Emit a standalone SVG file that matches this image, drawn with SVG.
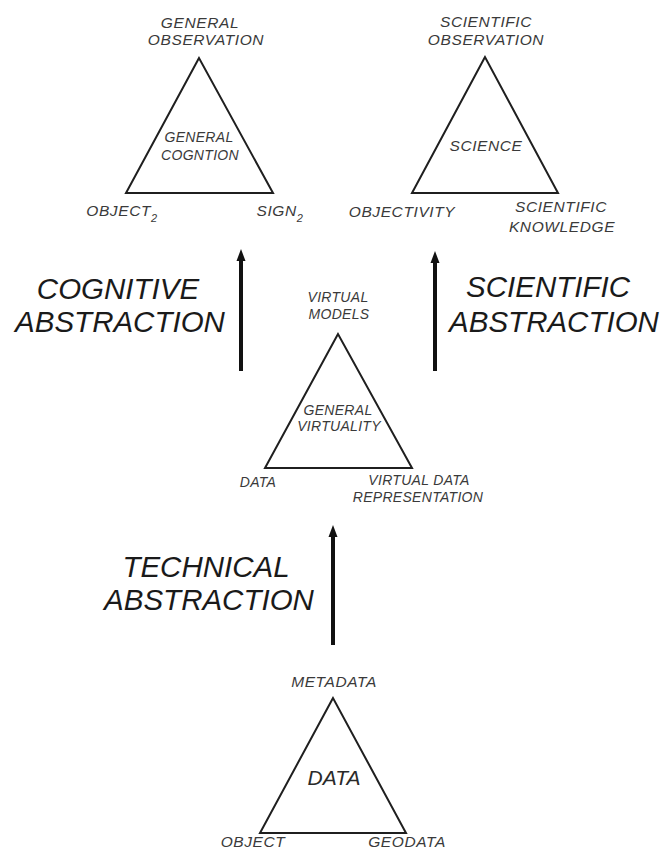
<svg xmlns="http://www.w3.org/2000/svg" width="662" height="856" viewBox="0 0 662 856">
<defs>
<marker id="ah" markerUnits="userSpaceOnUse" markerWidth="12" markerHeight="10" refX="0" refY="5" orient="auto" viewBox="0 0 12 10">
<polygon points="0,0.5 12,5 0,9.5" fill="#111"/>
</marker>
<style>
text{font-family:"Liberation Sans",Arial,sans-serif;font-style:italic;text-anchor:middle;}
.lab{font-size:15.5px;letter-spacing:0.6px;fill:#3a3a3a;}
.mid{font-size:14px;letter-spacing:0.3px;fill:#3a3a3a;}
.big{font-size:29.5px;fill:#1a1a1a;}
.sub{font-size:11px;}
.tri{fill:none;stroke:#1f1f1f;stroke-width:2;stroke-linejoin:miter;}
.arr{stroke:#111;stroke-width:4;fill:none;}
</style>
</defs>
<rect width="662" height="856" fill="#fff"/>

<g id="general-cognition">
<polygon class="tri" points="199,58 126,193 273,193"/>
<text class="lab" x="200" y="28">GENERAL</text>
<text class="lab" x="206" y="45">OBSERVATION</text>
<text class="mid" x="199" y="142">GENERAL</text>
<text class="mid" x="200" y="160">COGNTION</text>
<text class="lab" x="122" y="216">OBJECT<tspan class="sub" dy="6">2</tspan></text>
<text class="lab" x="280" y="216">SIGN<tspan class="sub" dy="6">2</tspan></text>
</g>

<g id="science">
<polygon class="tri" points="485,57 412,193 558,193"/>
<text class="lab" x="486" y="27">SCIENTIFIC</text>
<text class="lab" x="486" y="45">OBSERVATION</text>
<text class="lab" x="486" y="151">SCIENCE</text>
<text class="lab" x="402" y="217">OBJECTIVITY</text>
<text class="lab" x="561" y="212">SCIENTIFIC</text>
<text class="lab" x="562" y="232">KNOWLEDGE</text>
</g>

<g id="general-virtuality">
<polygon class="tri" points="338,334 265,468 412,468"/>
<text class="mid" x="338" y="302">VIRTUAL</text>
<text class="mid" x="339" y="319">MODELS</text>
<text class="mid" x="338" y="415">GENERAL</text>
<text class="mid" x="339" y="431">VIRTUALITY</text>
<text class="mid" x="258" y="487">DATA</text>
<text class="mid" x="419" y="485">VIRTUAL DATA</text>
<text class="mid" x="418" y="502">REPRESENTATION</text>
</g>

<g id="data">
<polygon class="tri" points="333,698 260,833 406,833"/>
<text class="lab" x="334" y="687">METADATA</text>
<text x="334" y="785" style="font-size:21px;fill:#2a2a2a;">DATA</text>
<text class="lab" x="253" y="847">OBJECT</text>
<text class="lab" x="407" y="847">GEODATA</text>
</g>

<g id="cognitive-abstraction">
<text class="big" x="118" y="299">COGNITIVE</text>
<text class="big" x="120" y="332">ABSTRACTION</text>
</g>
<g id="scientific-abstraction">
<text class="big" x="548" y="297">SCIENTIFIC</text>
<text class="big" x="554" y="332">ABSTRACTION</text>
</g>
<g id="technical-abstraction">
<text class="big" x="206" y="577">TECHNICAL</text>
<text class="big" x="209" y="610">ABSTRACTION</text>
</g>

<g id="connectors">
<line class="arr" x1="241" y1="371" x2="241" y2="261" marker-end="url(#ah)"/>
<line class="arr" x1="435" y1="371" x2="435" y2="263" marker-end="url(#ah)"/>
<line class="arr" x1="333" y1="645" x2="333" y2="537" marker-end="url(#ah)"/>
</g>
</svg>
